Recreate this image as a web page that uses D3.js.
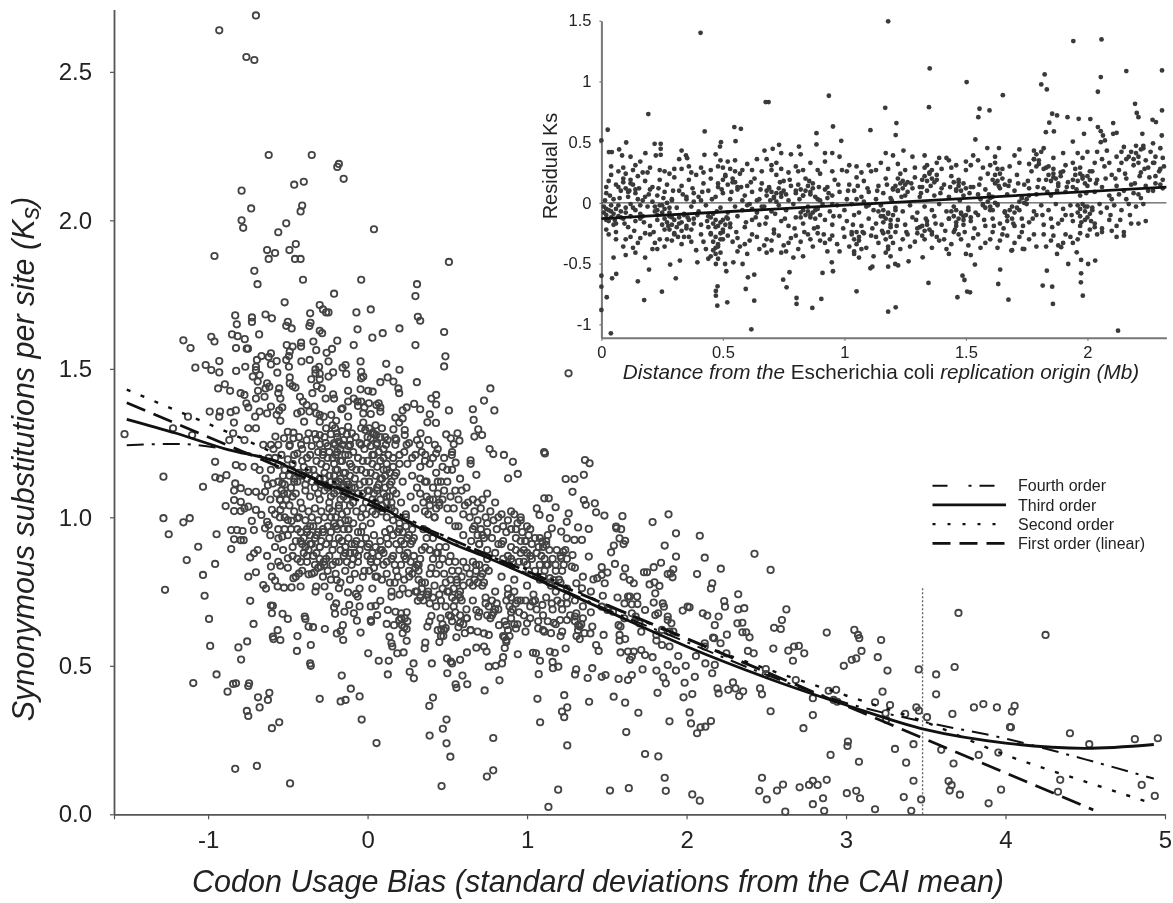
<!DOCTYPE html>
<html>
<head>
<meta charset="utf-8">
<script src="https://cdn.jsdelivr.net/npm/d3@7"></script>
<style>
  body { margin: 0; background: #fff; }
  svg { display: block; font-family: "Liberation Sans", Arial, sans-serif; filter: blur(0.35px); }
</style>
</head>
<body>
<div id="vis"></div>
<script>
// main scatter: upper outliers
var pointsHigh = [[-.7,2.69],[-.93,2.64],[-.76,2.55],[-.71,2.54],[-.62,2.22],[-.35,2.22],[-.18,2.19],[-.19,2.18],[-.15,2.14],[-.46,2.12],[-.4,2.13],[-.79,2.1],[-.73,2.04],[-.41,2.05],[-.42,2.03],[-.79,2],[-.78,1.975],[-.51,1.99],[-.56,1.96],[.04,1.97],[-.45,1.92],[-.49,1.9],[-.63,1.9],[-.58,1.89],[-.62,1.87],[-.96,1.88],[-.455,1.87],[-.42,1.87],[.51,1.86],[-.71,1.83],[-.69,1.785],[-.405,1.8],[-.04,1.8],[.31,1.785],[.3,1.745],[-.21,1.753],[-.52,1.724],[-.3,1.715],[-.28,1.7],[-.26,1.69],[-.245,1.69],[-.36,1.687],[-.07,1.69],[.02,1.7],[-.83,1.68],[-.82,1.65],[-.725,1.673],[-.725,1.658],[-.64,1.683],[-.6,1.67],[-.5,1.658],[-.51,1.645],[-.476,1.636],[-.358,1.655],[-.365,1.644],[-.063,1.633],[-.3,1.628],[-.285,1.62],[.315,1.675],[.33,1.662],[.2,1.636],[.095,1.62],[.03,1.605],[.48,1.624],[-.68,1.616],[-.85,1.616],[-.815,1.61],[-.77,1.6],[-.98,1.608],[-.96,1.592],[-1.155,1.596],[-1.11,1.57],[-.19,1.595],[-.34,1.592],[-.417,1.588],[-.417,1.575],[-.087,1.58],[-.507,1.58],[-.47,1.575],[-.825,1.57],[-.758,1.568],[-.75,1.568],[-.223,1.567],[-.322,1.563],[.3,1.58],[-.488,1.558],[-.257,1.554],[-.606,1.552],[-.665,1.543],[-.62,1.54],[-.493,1.543],[.488,1.542],[-.93,1.526],[-1.015,1.513],[-1.08,1.504],[-.98,1.496],[-.93,1.488],[-.824,1.493],[-.767,1.507],[-.694,1.53],[-.7,1.507],[-.7,1.496],[-.57,1.526],[-.606,1.515],[-.566,1.487],[-.51,1.53],[-.493,1.507],[-.415,1.525],[-.363,1.53],[-.245,1.525],[-.327,1.498],[-.304,1.507],[-.138,1.513],[-.157,1.504],[-.044,1.525],[.117,1.517],[.2,1.497],[.48,1.508],[1.26,1.485],[-.04,1.49],[-.134,1.483],[-.216,1.488],[-.327,1.485],[-.3,1.483],[-.027,1.474],[-.245,1.474],[-.72,1.474],[-.677,1.479],[-.488,1.471],[-.353,1.465],[-.3,1.465],[-.04,1.468],[.126,1.471],[.162,1.457],[.08,1.455],[.309,1.455],[-.689,1.457],[-.63,1.451],[-.488,1.451],[-.47,1.442],[-.452,1.437],[-.318,1.442],[-.287,1.434],[.193,1.434],[.77,1.434],[-.895,1.448],[-.937,1.434],[-.862,1.426],[-.64,1.434],[-.616,1.44],[-.554,1.434],[-.122,1.426],[-.044,1.431],[.004,1.426],[.032,1.423],[.198,1.418],[-.687,1.426],[-.796,1.418],[-.772,1.412],[-.56,1.418],[-.346,1.418],[-.216,1.414],[.43,1.412],[.4,1.4],[.43,1.38],[.73,1.393],[.795,1.36],[-.7,1.4],[-.646,1.406],[-.547,1.4],[-.424,1.406],[-.405,1.39],[-.263,1.4],[-.21,1.4],[-.122,1.39],[-.087,1.4],[-.063,1.39],[-.04,1.39],[.008,1.384],[.055,1.378],[.292,1.382],[.245,1.37],[.33,1.364],[-.76,1.384],[-.748,1.37],[-.606,1.373],[-.535,1.37],[-.382,1.378],[-.334,1.373],[-.157,1.367],[-.165,1.364],[-.06,1.375],[-.02,1.37],[.07,1.384],[.08,1.37],[.22,1.36],[.51,1.36],[.66,1.364],[.39,1.347],[.665,1.328],[-.99,1.356],[-.925,1.356],[-.93,1.339],[-.859,1.354],[-.826,1.36],[-.705,1.339],[-.677,1.356],[-.63,1.35],[-.57,1.345],[-.554,1.36],[-.441,1.35],[-.417,1.356],[-.365,1.356],[-.322,1.35],[-.3,1.345],[-.228,1.345],[-.275,1.339],[-.122,1.339],[-.027,1.35],[.02,1.348],[.08,1.356],[.174,1.336],[.22,1.333],[-1.126,1.339],[-1.22,1.3],[-1.1,1.277],[-1.524,1.28],[-.838,1.319],[-.547,1.325],[-.398,1.322],[-.3,1.322],[-.197,1.325],[-.122,1.305],[-.027,1.319],[.198,1.319],[.375,1.32],[.429,1.318],[-.748,1.3],[-.7,1.3],[-.204,1.3],[.162,1.296],[.233,1.294],[.694,1.296],[-.04,1.3],[-.015,1.294],[-.843,1.283],[.493,1.279],[.564,1.283],[.332,1.283],[.718,1.277],[.67,1.272],[-.5,1.288],[-.465,1.285],[-.37,1.283],[-.3,1.277],[-.193,1.283],[-.098,1.283],[.032,1.285],[.055,1.277],[.233,1.277],[.174,1.266],[.522,1.266],[.576,1.258],[.54,1.246],[-.867,1.26],[-.772,1.26],[-.578,1.272],[-.524,1.266],[-.465,1.266],[-.382,1.26],[-.322,1.263],[-.18,1.255],[-.11,1.26],[-.075,1.27],[.02,1.266],[.126,1.26],[.327,1.244],[.422,1.244],[.765,1.23],[1.107,1.22],[-.654,1.244],[-.606,1.244],[-.56,1.244],[-.488,1.244],[-.417,1.244],[-.3,1.246],[-.263,1.25],[-.204,1.244],[-.157,1.244],[-.11,1.244],[-.04,1.244],[-.004,1.25],[.055,1.244],[.115,1.244],[.174,1.244],[.245,1.244]];

// left and lower scatter, sparse part
var pointsLow = [[-1.28,1.137],[-.956,1.187],[-.955,1.135],[-.925,1.13],[-.885,1.142],[-1.032,1.103],[-1.28,.997],[-1.155,.983],[-1.115,.997],[-1.247,.943],[-.947,.943],[-1.062,.901],[-1.134,.856],[-.956,.843],[-1.032,.806],[-1.27,.756],[-1.022,.736],[-.736,.719],[-.994,.658],[-.715,.641],[-.987,.567],[-.81,.562],[-.755,.582],[-.793,.521],[-.947,.471],[-1.093,.442],[-.878,.413],[-.843,.439],[-.825,.441],[-.743,.441],[-.748,.432],[-.616,.409],[-.687,.394],[-.625,.385],[-.677,.36],[-.757,.348],[-.748,.331],[-.554,.31],[-.6,.29],[-.3,.389],[-.169,.38],[-.138,.385],[-.105,.423],[-.05,.397],[-.162,.467],[-.037,.319],[.056,.24],[-.83,.153],[-.694,.163],[-.486,.104],[-.443,.55],[-.356,.57],[-.36,.508],[-.356,.5],[-.44,.6],[-.594,.598],[-.59,.59],[-.564,.62],[-.547,.587],[-.37,.632],[-.342,.63],[-.268,.624],[-.193,.609],[-.169,.617],[-.155,.637],[-.153,.587],[-.044,.612],[.004,.542],[.07,.517],[.133,.517],[.127,.471],[.288,.508],[.264,.48],[.29,.458],[.403,.508],[.5,.475],[.595,.467],[.552,.438],[.557,.426],[.625,.438],[.734,.417],[.827,.451],[.498,.525],[.522,.514],[.53,.508],[.58,.52],[.623,.545],[.682,.561],[.746,.548],[.76,.497],[.803,.5],[.85,.529],[.843,.508],[.942,.539],[1.037,.544],[1.056,.542],[1.143,.548],[1.174,.544],[1.081,.517],[1.073,.472],[1.16,.513],[1.162,.492],[1.196,.497],[1.308,.488],[1.301,.471],[1.38,.459],[1.242,.558],[1.065,.389],[1.233,.401],[1.252,.36],[1.219,.346],[1.233,.327],[1.389,.379],[1.082,.31],[1.252,.232],[.387,.365],[.41,.393],[.495,.319],[.472,.288],[.389,.265],[.495,.239],[.788,.257],[.519,.194],[.464,.095],[.748,.127],[.788,.148],[1.195,.083],[1.134,.025],[.138,.598],[.15,.576],[.155,.565],[.186,.542],[.226,.545],[.245,.584],[.358,.559],[.362,.578],[.646,.62],[.69,.615],[.73,.609],[.76,.604],[.73,.565],[-.748,.8],[-.7,.815],[-.654,.772],[-.637,.76],[-.606,.834],[-.547,.837],[-.6,.8],[-.58,.787],[-.564,.767],[-.524,.763],[-.477,.764],[-.465,.795],[-.43,.811],[-.42,.767],[-.37,.808],[-.334,.814],[-.322,.767],[-.327,.75],[-.27,.767],[-.294,.834],[-.275,.85],[-.24,.733],[-.193,.789],[-.18,.761],[-.123,.747],[-.062,.733],[-.073,.742],[-.197,.71],[-.204,.675],[-.21,.697],[-.145,.682],[-.115,.705],[-.086,.677],[-.067,.652],[-.05,.7],[.02,.7],[.05,.702],[.08,.719],[.06,.671],[.02,.654],[.022,.648],[.127,.688],[.15,.733],[.175,.682],[.21,.677],[.245,.68],[.198,.654],[.233,.66],[.12,.641],[.166,.637],[.216,.637],[.245,.624],[.257,.744],[.315,.719],[-.606,.703],[-.594,.702],[-.6,.677],[-.533,.675],[-.5,.658],[-.394,.666],[-.39,.658],[.375,.632],[.387,.649],[.4,.668],[.458,.66],[.522,.666],[.462,.623],[.49,.627],[.475,.6],[.557,.596],[.58,.645],[.623,.66],[.682,.688],[.694,.666],[.646,.62],[.824,.637],[.87,.637],[.858,.596],[.87,.587],[.93,.626],[.99,.615],[1,.643],[1.07,.626],[1.108,.615],[1.167,.645],[1.207,.654],[1.25,.654],[1.22,.615],[1.3,.666],[1.32,.637],[1.33,.632]];

// lower right scatter
var pointsRight = [[1.425,1.047],[1.433,1.017],[1.485,1.006],[1.598,1.004],[1.887,1.01],[1.787,.984],[1.558,.969],[1.56,.963],[1.59,.96],[1.58,.929],[1.615,.921],[1.605,.91],[1.544,.905],[1.527,.882],[1.934,.946],[2.083,.938],[1.863,.905],[1.934,.868],[2.114,.864],[2.426,.877],[2.527,.823],[2.215,.827],[2.066,.809],[1.84,.847],[1.794,.832],[1.752,.815],[1.733,.815],[1.882,.809],[1.9,.811],[1.917,.825],[1.912,.798],[1.615,.828],[1.551,.843],[1.468,.832],[1.504,.814],[1.468,.806],[1.44,.795],[1.487,.778],[1.416,.791],[1.605,.8],[1.645,.789],[1.669,.778],[1.768,.774],[1.799,.781],[1.83,.769],[1.804,.744],[2.161,.778],[2.153,.76],[2.324,.741],[2.236,.718],[2.241,.699],[2.324,.69],[2.362,.694],[2.626,.69],[1.475,.736],[1.567,.73],[1.633,.733],[1.645,.733],[1.69,.733],[1.611,.71],[1.657,.707],[1.692,.708],[1.74,.688],[1.794,.713],[1.851,.71],[1.858,.699],[1.804,.671],[1.822,.677],[1.882,.666],[1.905,.643],[1.882,.654],[1.976,.686],[2.007,.699],[2.019,.697],[2.102,.677],[2.13,.669],[2.201,.666],[2.177,.637],[2.319,.643],[2.35,.645],[2.35,.613],[2.374,.613],[2.395,.596],[2.253,.605],[2.166,.595],[2.173,.593],[2.213,.576],[2.114,.576],[2.114,.565],[2.25,.542],[2.385,.55],[2.421,.542],[2.544,.558],[2.549,.628],[2.591,.624],[2.598,.654],[2.638,.551],[2.674,.565],[2.704,.567],[2.738,.542],[2.667,.517],[2.879,.612],[3.052,.621],[3.075,.604],[3.083,.593],[3.22,.587],[3.097,.55],[3.064,.525],[3.036,.52],[2.986,.5],[3.199,.529],[3.26,.484],[3.456,.488],[3.565,.471],[3.681,.496],[3.705,.678],[4.251,.604],[3.565,.404],[3.229,.413],[3.182,.377],[3.276,.368],[2.891,.416],[2.938,.419],[2.922,.385],[2.945,.379],[3.441,.36],[3.457,.349],[3.371,.338],[3.508,.327],[3.667,.338],[3.802,.36],[3.861,.371],[3.946,.36],[4.057,.365],[4.04,.346],[4.028,.294],[4.034,.293],[4.404,.273],[4.525,.236],[4.811,.253],[4.955,.256],[3.248,.34],[3.252,.318],[3.307,.22],[3.423,.236],[3.377,.174],[3.597,.217],[3.674,.171],[3.832,.2],[3.955,.208],[3.081,.177],[3.012,.245],[3.009,.23],[2.903,.2],[2.792,.334],[2.733,.29],[2.527,.347],[2.792,.391],[2.685,.452],[2.497,.489],[2.497,.472],[2.461,.424],[2.473,.404],[2.291,.444],[2.262,.419],[2.307,.424],[2.355,.414],[2.33,.398],[2.194,.424],[2.201,.407],[2.161,.475],[2.177,.503],[2.118,.508],[2.059,.533],[1.948,.533],[1.995,.5],[1.934,.484],[1.882,.503],[1.811,.484],[1.854,.461],[1.87,.441],[1.988,.443],[2.052,.463],[2.036,.405],[1.981,.394],[1.818,.409],[1.724,.488],[1.657,.469],[1.633,.452],[1.574,.456],[1.492,.469],[1.468,.463],[1.409,.492],[1.543,.396],[1.615,.376],[1.698,.342],[1.893,.313],[2.019,.343],[2.028,.306],[2.153,.314],[2.118,.295],[2.088,.293],[2.066,.273],[1.622,.277],[1.74,.203],[1.823,.195],[1.863,.123],[1.87,.079],[1.638,.088],[1.52,.08],[2.036,.067],[2.083,.046],[2.473,.123],[2.456,.079],[2.503,.05],[2.567,.08],[2.605,.1],[2.619,.009],[2.709,.091],[2.768,.099],[2.792,.113],[2.822,.099],[2.879,.116],[2.856,.054],[2.792,.034],[2.863,.012],[3.005,.071],[3.064,.079],[3.088,.054],[3.182,.017],[3.362,.058],[3.423,.113],[3.409,.012],[3.471,.05],[3.643,.112],[3.662,.098],[3.65,.08],[3.714,.066],[3.894,.037],[3.972,.083],[4.329,.076],[4.343,.116],[4.854,.099],[4.936,.062],[1.468,.699],[1.504,.688],[1.539,.682],[1.574,.637],[1.586,.632],[1.58,.604],[1.58,.585],[1.615,.59],[1.716,.553],[1.74,.536],[1.787,.529],[1.633,.548],[1.669,.548],[1.645,.52],[1.657,.531],[1.893,.565],[1.846,.57],[1.811,.585],[1.811,.604],[1.433,.57],[1.449,.55],[1.48,.604],[1.409,.632],[1.397,.609],[1.681,.666],[1.704,.643],[1.716,.615],[1.61,.66],[1.586,.545],[1.657,.677],[1.846,.621],[1.893,.615],[1.917,.615],[1.108,1.064],[1.136,1.064],[1.242,1.129],[1.297,1.129],[1.356,1.143],[1.285,1.086],[1.356,1.058],[1.368,1.042],[1.112,1.215],[1.363,1.193],[1.392,1.182],[1.179,1.034],[1.261,1.013],[1.249,.985],[1.32,.966],[1.387,.961],[1.061,1.03],[1.078,1.008],[1.143,.997],[1.155,.963],[1.214,.952],[1.249,.929],[1.297,.924],[1.344,.924],[1.096,.918],[1.12,.907],[1.186,.89],[1.226,.884],[1.285,.873],[1.214,.862],[1.28,.834],[1.387,.868],[1.179,.84],[1.12,.84],[1.073,.9],[1.309,.778],[1.344,.761],[1.143,.795],[1.167,.789],[1.249,.733],[1.214,.71],[1.155,.71],[1.096,.705],[1.037,.716],[1.309,.677],[.855,1.21],[.911,1.187],[.942,1.146],[.881,1.131],[.788,1.213],[.682,1.143],[.646,1.192],[.646,1.18],[.528,1.21],[.552,1.184],[.362,1.21],[.43,1.215]];

// dense core of the main cloud, estimated along the fit
var pointsCore = [[-.826,1.176],[-.784,1.17],[-.708,1.17],[-.677,1.159],[-.83,1.114],[-.795,1.098],[-.748,1.086],[-.7,1.086],[-.837,1.09],[-.89,1.038],[-.837,1.058],[-.795,1.052],[-.837,1.021],[-.772,1.03],[-.795,1.021],[-.748,1.036],[-.7,1.025],[-.666,1.008],[-.6,1.025],[-.547,1.025],[-.726,.988],[-.63,.985],[-.643,.963],[-.62,.974],[-.713,.957],[-.855,.957],[-.819,.957],[-.784,.954],[-.837,.926],[-.795,.923],[-.777,.923],[-.855,.893],[-.736,.865],[-.712,.879],[-.689,.89],[-.559,.929],[-.535,.935],[-.5,.862],[-.5,.991],[-.477,.988],[-.44,.997],[-.547,1.058],[-.524,1.08],[-.625,1.108],[-.594,1.114],[-.643,1.086],[-.666,1.07],[-.535,1.114],[-.56,1.176],[-.606,1.16],[-.58,1.2],[-.54,1.21],[-.5,1.195],[-.47,1.18],[-.44,1.215],[-.41,1.19],[-.52,1.16],[-.49,1.14],[-.46,1.12],[-.43,1.15],[-.4,1.17],[-.38,1.13],[-.36,1.21],[-.34,1.16],[-.32,1.19],[-.3,1.13],[-.28,1.21],[-.26,1.17],[-.24,1.14],[-.22,1.2],[-.2,1.16],[-.18,1.12],[-.16,1.19],[-.14,1.15],[-.12,1.21],[-.1,1.17],[-.08,1.13],[-.06,1.2],[-.04,1.16],[-.02,1.12],[0,1.19],[.02,1.15],[.04,1.21],[.06,1.17],[.08,1.13],[.1,1.2],[.12,1.16],[.14,1.11],[.16,1.2],[.18,1.15],[.2,1.21],[.22,1.12],[.25,1.18],[.28,1.14],[.3,1.21],[.33,1.17],[.36,1.12],[.39,1.18],[.43,1.15],[.47,1.17],[.5,1.12],[.53,1.16],[.58,1.13],[.62,1.1],[.66,1.06],[.71,1.03],[.75,1.08],[.8,1.05],[.84,1.01],[.9,1.02],[.96,.99],[1,.97],[-.45,1.08],[-.42,1.05],[-.39,1.09],[-.36,1.07],[-.33,1.1],[-.3,1.06],[-.27,1.09],[-.24,1.05],[-.21,1.08],[-.18,1.04],[-.15,1.07],[-.12,1.1],[-.09,1.05],[-.06,1.08],[-.03,1.03],[0,1.09],[.03,1.06],[.06,1.1],[.09,1.04],[.12,1.07],[.15,1.03],[.18,1.08],[.21,1.05],[.24,1.01],[.27,1.07],[.3,1.03],[.33,1.08],[.36,1.02],[.39,1.06],[.42,1],[.45,1.04],[.48,1.09],[.51,.99],[.54,1.03],[.57,.97],[.6,1.01],[.63,1.05],[.66,.96],[.69,.99],[.72,.94],[.75,.98],[.78,.93],[.81,.96],[.84,.91],[.87,.95],[.9,.9],[.93,.93],[.96,.88],[.99,.92],[1.02,.87],[-.5,.94],[-.47,.9],[-.44,.96],[-.42,.92],[-.4,.88],[-.38,.95],[-.36,.91],[-.34,.87],[-.32,.94],[-.3,.9],[-.28,.96],[-.26,.86],[-.24,.93],[-.22,.89],[-.2,.97],[-.18,.85],[-.16,.92],[-.14,.88],[-.12,.96],[-.1,.84],[-.08,.91],[-.06,.87],[-.04,.95],[-.02,.82],[0,.9],[.02,.86],[.04,.94],[.06,.8],[.08,.89],[.1,.84],[.12,.93],[.14,.78],[.16,.87],[.18,.82],[.2,.96],[.22,.76],[.24,.86],[.26,.8],[.28,.92],[.3,.75],[.32,.84],[.34,.78],[.36,.9],[.38,.74],[.4,.83],[.42,.77],[.44,.88],[.46,.72],[.48,.81],[.5,.75],[.52,.87],[.54,.7],[.56,.79],[.58,.73],[.6,.85],[.62,.69],[.64,.78],[.66,.72],[.68,.84],[.7,.68],[.72,.77],[.74,.71],[.76,.82],[.78,.67],[.8,.75],[.82,.69],[.84,.8],[.86,.65],[.88,.74],[.9,.68],[.92,.79],[.94,.64],[.96,.72],[.98,.67],[1,.77],[1.02,.66],[1.04,.74],[1.06,.69],[1.08,.79],[1.1,.67],[1.12,.73],[1.14,.78],[1.16,.69],[1.18,.75],[.55,.97],[.6,.94],[.65,.92],[.7,.91],[.75,.89],[.8,.88],[.85,.86],[.9,.86],[.95,.85],[1,.84],[1.05,.82],[1.1,.8],[1.15,.77],[1.2,.79],[1.25,.76],[1.3,.72],[1.35,.7],[1.4,.68],[1.4,.75],[1.35,.8],[1.3,.83]];

// clumps of overlapping circles seen in the enlarged crops
var clumpsMain = [[-.42,.95],[-.4,.93],[-.38,.96],[-.36,.94],[-.35,.91],[-.33,.93],[-.31,.95],[-.39,.9],[-.37,.89],[-.34,.97],[-.3,.9],[-.41,.91],[-.32,.88],[-.36,.97],[-.29,.92],[-.28,.95],
[-.16,.92],[-.14,.9],[-.12,.93],[-.1,.91],[-.08,.88],[-.15,.87],[-.13,.85],[-.11,.88],[-.09,.86],[-.07,.92],[-.05,.89],[-.17,.89],[-.18,.93],[-.06,.85],[-.04,.91],[-.12,.96],
[-.27,1.27],[-.25,1.24],[-.23,1.28],[-.21,1.25],[-.19,1.27],[-.17,1.23],[-.15,1.26],[-.13,1.28],[-.24,1.22],[-.2,1.21],[-.16,1.29],[-.12,1.24],[-.28,1.22],[-.26,1.3],[-.22,1.31],
[0,1.27],[.02,1.24],[.04,1.28],[.06,1.25],[.08,1.27],[.1,1.23],[.03,1.21],[.07,1.22],[-.02,1.23],[.01,1.3],[.05,1.31],[.09,1.3],[.11,1.27],
[.06,1.09],[.08,1.06],[.1,1.08],[.12,1.05],[.14,1.07],[.07,1.03],[.09,1.02],[.11,1.1],[.13,1.03],[.15,1.05],[.16,1.09],[.05,1.05],[.04,1.08],[.17,1.02],[.12,1],
[-.22,1.02],[-.2,1],[-.18,1.03],[-.16,1.01],[-.14,.99],[-.21,.98],[-.19,.96],[-.17,.98],[-.15,.96],[-.13,1.02],[-.12,.99],[-.23,1],[-.24,1.03],[-.11,1.04],
[-.56,1.12],[-.54,1.09],[-.52,1.11],[-.5,1.08],[-.48,1.1],[-.55,1.06],[-.53,1.04],[-.51,1.06],[-.49,1.04],[-.47,1.07],[-.57,1.08],[-.46,1.13],[-.53,1.14],
[-.19,1.16],[-.17,1.13],[-.15,1.15],[-.13,1.12],[-.11,1.14],[-.16,1.1],[-.14,1.09],[-.12,1.11],[-.1,1.1],[-.2,1.12],
[.08,1.19],[.1,1.16],[.12,1.18],[.14,1.15],[.16,1.17],[.09,1.13],[.11,1.14],[.13,1.21],[.15,1.12],[.17,1.14],
[.01,.91],[.03,.88],[.05,.9],[.07,.87],[.02,.85],[.04,.83],[.06,.85],[.08,.92],[.09,.89],[0,.87],[-.01,.93],[.05,.8],
[.2,.98],[.22,.95],[.24,.97],[.26,.94],[.28,.96],[.21,.92],[.23,.91],[.25,.93],[.27,.91],[.19,.95],[.29,.93],[.24,1],
[.25,.88],[.27,.85],[.29,.87],[.31,.84],[.33,.86],[.26,.82],[.28,.81],[.3,.83],[.32,.82],[.34,.89],
[.37,1.07],[.39,1.04],[.41,1.06],[.43,1.03],[.45,1.05],[.38,1.01],[.42,1],[.44,1.08],
[.66,.85],[.68,.82],[.7,.84],[.72,.81],[.74,.83],[.67,.79],[.69,.78],[.71,.8],[.73,.78],[.75,.86],
[.52,.79],[.54,.76],[.56,.78],[.58,.75],[.6,.77],[.53,.73],[.55,.72],[.57,.74],[.59,.72],[.51,.75],
[.32,.79],[.34,.76],[.36,.78],[.38,.75],[.33,.73],[.35,.72],[.37,.74],[.39,.71],[.31,.75],
[.88,.76],[.9,.73],[.92,.75],[.94,.72],[.89,.7],[.91,.69],[.93,.71],[.95,.68],[.87,.72],[.9,.66],[.92,.64],
[.74,.73],[.76,.7],[.78,.72],[.8,.69],[.75,.67],[.77,.66],[.79,.68],[.81,.71],
[.97,.95],[.99,.92],[1.01,.94],[1.03,.91],[1.05,.93],[.98,.89],[1,.88],[1.02,.96],
[1.08,.93],[1.1,.9],[1.12,.92],[1.14,.89],[1.09,.87],[1.11,.86],[1.13,.94],
[.92,1.01],[.94,.98],[.96,1],[.93,.96],
[.67,.97],[.69,.94],[.71,.96],[.73,.93],[.75,.95],[.7,.91],
[1.3,.65],[1.32,.62],[1.34,.64],[1.36,.61],[1.31,.6],[1.33,.59],[1.35,.66],
[.58,.67],[.6,.64],[.62,.66],[.57,.63],[.61,.61],[.44,.62],[.46,.6],[.48,.62],[.45,.58],[.47,.64],
[.21,.66],[.23,.63],[.25,.65],[.22,.61],[.85,.6],[.87,.58],[.89,.6],[.86,.56],[.88,.62],
[1.21,.87],[1.23,.84],[1.25,.86],[1.22,.82],[1.24,.89]];

// more of the mass left of and around x = 0
var clumpsCore = [[-.62,1.2],[-.59,1.23],[-.64,1.13],[-.61,1.06],[-.58,1.01],[-.56,.96],[-.61,.94],[-.58,.9],[-.63,.87],[-.56,.85],[-.53,.89],[-.5,.83],[-.47,.87],[-.45,.8],[-.44,.86],[-.41,.82],[-.38,.85],[-.35,.81],[-.31,.83],[-.28,.8],[-.25,.82],[-.23,.79],[-.2,.81],[-.17,.78],[-.14,.82],[-.11,.79],[-.08,.81],[-.05,.76],[-.03,.8],[.01,.82],[.03,.76],[.09,.79],[.12,.81],[.15,.75],[.17,.78],[.2,.74],[.23,.79],
[-.49,1.24],[-.46,1.21],[-.43,1.27],[-.41,1.23],[-.38,1.2],[-.35,1.24],[-.33,1.28],[-.31,1.22],[-.29,1.18],[-.27,1.15],[-.25,1.2],[-.23,1.12],[-.21,1.18],[-.19,1.22],[-.17,1.19],[-.14,1.21],[-.11,1.18],[-.09,1.22],[-.07,1.16],[-.05,1.25],[-.03,1.19],[-.01,1.15],[.01,1.12],[.03,1.18],[.05,1.14],[.07,1.11],[.18,1.26],[.2,1.18],[.23,1.22],[.26,1.25],[.28,1.2],[.31,1.26],[.34,1.22],[.36,1.19],[.38,1.26],[.41,1.2],[.44,1.23],[.46,1.12],[.48,1.2],[.5,1.16],[.53,1.22],
[-.44,1.12],[-.41,1.14],[-.39,1.11],[-.37,1.16],[-.35,1.12],[-.33,1.14],[-.31,1.08],[-.29,1.11],[-.27,1.13],[-.25,1.1],[-.23,1.07],[-.21,1.14],[-.19,1.09],[-.17,1.06],[-.15,1.11],[-.13,1.06],[-.1,1.08],[-.08,1.1],[-.05,1.11],[-.03,1.08],[-.01,1.05],[.01,1.09],[.03,1.02],[.05,1.01],[.02,.98],[-.01,1.01],[-.04,1],[-.07,1.02],[-.09,.98],[-.06,.95],[-.03,.97],
[-.46,1.02],[-.43,1],[-.41,1.03],[-.39,.99],[-.37,1.02],[-.35,1],[-.33,1.03],[-.31,.99],[-.29,1.02],[-.27,1],[-.25,.97],[-.23,.95],[-.21,.91],[-.26,.91],[-.24,.87],[-.2,.85],[-.22,.84],[-.27,.84],[-.3,.86],[-.33,.84],[-.38,.87],[-.42,.85],[-.45,.92],[-.48,.96],[-.52,1],[-.55,1],[-.52,.96],
[.16,.99],[.18,.91],[.2,.89],[.16,.94],[.14,.96],[.11,.95],[.13,.91],[.1,.88],[.12,.85],[.15,.86],[.17,.84],[.19,.8],[.21,.84],[.23,.87],[.35,.96],[.37,.93],[.39,.89],[.41,.93],[.43,.88],[.45,.9],[.47,.86],[.49,.9],[.51,.85],[.53,.82],[.55,.85],[.57,.82],[.59,.8],[.62,.83],[.64,.81],[.66,.77],[.41,.86],[.39,.81],[.43,.81],[.45,.84],[.47,.76],[.49,.78],[.41,.73],[.43,.7],[.45,.74],[.49,.7],[.51,.67],[.53,.65],[.55,.68],
[.31,1.1],[.33,1.13],[.35,1.05],[.37,1.12],[.41,1.1],[.44,1.12],[.47,1.06],[.5,1.03],[.52,1.07],[.55,1.09],[.57,1.06],[.59,1.09],[.61,1.04],[.64,1],[.67,1.02],[.69,1.05],[.72,1.06],[.74,1],[.77,1.02],[.79,.99],[.82,1],[.85,.97],[.88,.99],[.9,.96],[.82,.91],[.85,.92],[.88,.87],[.91,.85],[.93,.89],[.96,.92],[.98,.85],[1.01,.82],[1.03,.86],[1.06,.88],[1.08,.84],[1.11,.82],[1.13,.84],[1.16,.86],[1.18,.82],[1.21,.78],[1.19,.72],[1.22,.69],[1.25,.71],[1.27,.67],[.99,.72],[1.02,.7],[1.05,.72],[1.07,.65],[1.1,.62],[1.13,.65],[1.15,.61],[1.18,.64],[1.21,.6]];

// inset scatter, values, upper half
var insetHigh = [[.408,1.4],[1.18,1.495],[1.942,1.332],[2.058,1.346],[1.351,1.107],[2.307,1.091],[2.16,1.085],[2.055,1.036],[1.824,1.058],[1.503,.995],[1.81,.975],[1.833,.934],[2.043,.915],[1.652,.887],[.936,.882],[.676,.83],[.688,.83],[1.168,.783],[1.348,.788],[1.556,.775],[1.597,.761],[.193,.731],[2.196,.816],[2.307,.761],[2.203,.74],[2.21,.706],[2.268,.684],[1.964,.692],[1.855,.734],[1.875,.72],[1.918,.706],[2.012,.69],[1.551,.706],[1.843,.66],[2.106,.657],[1.214,.657],[.026,.602],[.547,.624],[.574,.61],[.953,.629],[.425,.588],[1.107,.599],[.885,.574],[1.829,.582],[1.862,.588],[2.043,.624],[2.055,.59],[1.986,.569],[2.064,.555],[2.12,.577],[2.106,.569],[2.306,.555],[2.226,.569],[2.282,.665],[1.211,.558],[1.539,.522],[1.94,.505],[2.072,.514],[2.055,.5],[0,.514],[.102,.497],[.492,.5],[.552,.508],[.987,.511],[.885,.481],[.731,.478],[.705,.445],[.671,.431],[.488,.464],[.813,.464],[.219,.486],[.244,.486],[.244,.445],[.244,.396],[.181,.409],[.224,.39],[.424,.396],[.33,.431],[.348,.39],[.353,.368],[.031,.418],[.043,.418],[.073,.44],[.085,.39],[1.243,.431],[1.588,.451],[1.636,.451],[2.27,.49],[2.2,.47],[2.23,.45],[2.15,.46],[2.08,.43],[2.0,.42],[1.82,.45],[1.78,.43],[1.9,.41],[1.72,.44],[1.53,.39],[1.42,.37],[1.39,.37],[1.33,.39],[1.28,.38],[1.17,.41],[1.2,.39],[1.02,.31],[.95,.41],[.98,.38],[.92,.41],[.82,.4],[.78,.4],[.74,.41],[.68,.36],[.64,.36],[.55,.35],[.52,.34],[.47,.4],[.49,.35],[.32,.36],[.12,.38],[.16,.34],[2.3,.45],[2.31,.37],[2.27,.33],[2.16,.36],[2.12,.38],[1.98,.37],[1.94,.33],[1.86,.37],[1.78,.36],[1.7,.39],[1.62,.38],[1.55,.35],[1.5,.34],[1.46,.31],[1.43,.35],[1.38,.33],[1.34,.31],[1.22,.32],[1.15,.33],[1.1,.31],[1.05,.3],[.92,.34],[.86,.33],[.8,.3],[.72,.33],[.7,.31],[.6,.32],[.58,.27],[.55,.26],[.5,.29],[.48,.3],[.42,.25],[.36,.3],[.3,.28],[.26,.26],[.2,.29],[.17,.25],[.13,.27],[.1,.24],[.07,.26],[.04,.23],[.02,.13]];

// inset scatter, band around zero
var insetBand = [[.03,.18],[.06,.15],[.09,.2],[.12,.16],[.15,.22],[.18,.18],[.21,.13],[.24,.19],[.27,.15],[.3,.21],[.33,.14],[.36,.19],[.39,.23],[.42,.16],[.45,.2],[.48,.13],[.51,.22],[.54,.17],[.57,.24],[.6,.14],[.63,.2],[.66,.16],[.69,.12],[.72,.23],[.75,.18],[.78,.14],[.81,.26],[.84,.2],[.87,.16],[.9,.24],[.93,.13],[.96,.19],[.99,.27],[1.02,.15],[1.05,.21],[1.08,.18],[1.11,.26],[1.14,.14],[1.17,.2],[1.2,.12],[1.23,.24],[1.26,.17],[1.29,.21],[1.32,.13],[1.35,.25],[1.38,.19],[1.41,.15],[1.44,.22],[1.47,.17],[1.5,.27],[1.53,.13],[1.56,.2],[1.59,.24],[1.62,.16],[1.65,.28],[1.68,.18],[1.71,.23],[1.74,.15],[1.77,.26],[1.8,.19],[1.83,.29],[1.86,.21],[1.89,.25],[1.92,.17],[1.95,.28],[1.98,.22],[2.01,.26],[2.04,.19],[2.07,.3],[2.1,.23],[2.13,.27],[2.16,.2],[2.19,.31],[2.22,.25],[2.25,.29],[2.28,.22],[2.31,.19],[.02,.08],[.05,.03],[.08,.1],[.11,.05],[.14,.08],[.17,.02],[.2,.11],[.23,.06],[.26,.09],[.29,.03],[.32,.1],[.35,.05],[.38,.08],[.41,.02],[.44,.1],[.47,.05],[.5,.08],[.53,.03],[.56,.11],[.59,.06],[.62,.09],[.65,.03],[.68,.1],[.71,.05],[.74,.08],[.77,.02],[.8,.1],[.83,.06],[.86,.09],[.89,.03],[.92,.11],[.95,.06],[.98,.09],[1.01,.03],[1.04,.1],[1.07,.05],[1.1,.09],[1.13,.03],[1.16,.08],[1.19,.04],[1.22,.1],[1.25,.06],[1.28,.12],[1.31,.05],[1.34,.1],[1.37,.06],[1.4,.12],[1.43,.05],[1.46,.1],[1.49,.06],[1.52,.13],[1.55,.07],[1.58,.11],[1.61,.05],[1.64,.12],[1.67,.07],[1.7,.1],[1.73,.04],[1.76,.12],[1.79,.07],[1.82,.12],[1.85,.06],[1.88,.14],[1.91,.09],[1.94,.13],[1.97,.06],[2,.14],[2.03,.09],[2.06,.13],[2.09,.06],[2.12,.14],[2.15,.1],[2.18,.15],[2.21,.07],[2.24,.14],[2.27,.1],[2.3,.15],[.01,-.03],[.04,-.07],[.07,-.02],[.1,-.08],[.13,-.04],[.16,-.09],[.19,-.03],[.22,-.07],[.25,-.02],[.28,-.08],[.31,-.04],[.34,-.09],[.37,-.03],[.4,-.07],[.43,-.02],[.46,-.09],[.49,-.04],[.52,-.08],[.55,-.03],[.58,-.06],[.61,-.01],[.64,-.08],[.67,-.03],[.7,-.07],[.73,-.02],[.76,-.06],[.79,-.01],[.82,-.08],[.85,-.03],[.88,-.06],[.91,-.01],[.94,-.07],[.97,-.02],[1,-.06],[1.03,-.01],[1.06,-.08],[1.09,-.03],[1.12,-.06],[1.15,-.02],[1.18,-.09],[1.21,-.04],[1.24,-.07],[1.27,-.02],[1.3,-.08],[1.33,-.03],[1.36,-.06],[1.39,-.01],[1.42,-.07],[1.45,-.03],[1.48,-.09],[1.51,-.04],[1.54,-.08],[1.57,-.02],[1.6,-.06],[1.63,-.01],[1.66,-.08],[1.69,-.03],[1.72,-.06],[1.75,-.01],[1.78,-.07],[1.81,-.02],[1.84,-.06],[1.87,-.01],[1.9,-.05],[1.93,-.02],[1.96,-.08],[1.99,-.03],[2.02,-.06],[2.05,-.01],[2.08,-.04],[2.11,-.02],[2.14,-.06],[2.17,-.01],[2.2,-.03],[2.23,-.01],[.02,-.14],[.05,-.18],[.08,-.12],[.11,-.2],[.14,-.15],[.17,-.11],[.2,-.19],[.23,-.14],[.26,-.22],[.29,-.12],[.32,-.17],[.35,-.21],[.38,-.13],[.41,-.18],[.44,-.11],[.47,-.2],[.5,-.14],[.53,-.17],[.56,-.11],[.59,-.2],[.62,-.14],[.65,-.18],[.68,-.12],[.71,-.22],[.74,-.15],[.77,-.19],[.8,-.12],[.83,-.17],[.86,-.1],[.89,-.2],[.92,-.14],[.95,-.18],[.98,-.11],[1.01,-.15],[1.04,-.1],[1.07,-.19],[1.1,-.13],[1.13,-.17],[1.16,-.11],[1.19,-.2],[1.22,-.14],[1.25,-.18],[1.28,-.12],[1.31,-.2],[1.34,-.15],[1.37,-.11],[1.4,-.18],[1.43,-.13],[1.46,-.19],[1.49,-.11],[1.52,-.15],[1.55,-.1],[1.58,-.19],[1.61,-.13],[1.64,-.17],[1.67,-.11],[1.7,-.19],[1.73,-.13],[1.76,-.16],[1.79,-.1],[1.82,-.18],[1.85,-.13],[1.88,-.17],[1.91,-.1],[1.94,-.15],[1.97,-.19],[2,-.12],[2.03,-.17],[2.06,-.21],[2.09,-.14],[2.12,-.19],[2.15,-.24],[2.18,-.17],[2.21,-.17],[2.24,-.15],[.03,-.26],[.06,-.3],[.09,-.36],[.12,-.28],[.15,-.33],[.18,-.25],[.21,-.38],[.24,-.3],[.27,-.3],[.3,-.26],[.33,-.34],[.36,-.28],[.39,-.39],[.42,-.32],[.45,-.26],[.48,-.36],[.47,-.42],[.49,-.3],[.5,-.24],[.46,-.39],[.44,-.46],[.56,-.29],[.59,-.34],[.62,-.26],[.65,-.38],[.68,-.3],[.71,-.25],[.74,-.41],[.77,-.33],[.8,-.27],[.83,-.44],[.81,-.38],[.86,-.3],[.89,-.25],[.92,-.33],[.95,-.27],[.98,-.4],[1.03,-.24],[1.06,-.31],[1.09,-.37],[1.11,-.27],[1.14,-.33],[1.17,-.41],[1.19,-.28],[1.18,-.36],[1.21,-.24],[1.24,-.3],[1.27,-.36],[1.3,-.25],[1.33,-.3],[1.36,-.24],[1.39,-.31],[1.42,-.38],[1.45,-.24],[1.48,-.3],[1.51,-.35],[1.52,-.43],[1.55,-.26],[1.58,-.33],[1.61,-.24],[1.64,-.31],[1.67,-.27],[1.7,-.33],[1.73,-.24],[1.76,-.3],[1.79,-.36],[1.82,-.26],[1.85,-.31],[1.88,-.35],[1.91,-.26],[1.94,-.33],[1.97,-.25],[2,-.27],[2.03,-.2],[2.06,-.24],[2.12,-.28],[2.15,-.27],[.1,-.43],[.14,-.41],[.05,-.45],[.18,-.45],[.23,-.38],[.56,-.4],[.6,-.42],[.68,-.41],[.7,-.39],[.76,-.4],[.79,-.45],[.93,-.4],[1.04,-.4],[1.12,-.44],[1.36,-.37],[1.43,-.42],[1.5,-.42],[1.63,-.37],[1.69,-.39],[1.74,-.38]];

// inset clumps from the enlarged crops
var insetClumps = [[.01,-.08],[.02,-.1],[.03,-.06],[.04,-.12],[.05,-.09],[.06,-.05],[.07,-.11],[.08,-.07],[.09,-.13],[.02,-.05],[.04,-.02],[.1,-.04],[.12,-.11],[.14,-.06],[.16,-.13],[.03,-.15],[.06,-.17],
[.26,-.13],[.27,-.16],[.28,-.11],[.29,-.18],[.3,-.14],[.31,-.2],[.32,-.12],[.33,-.16],[.34,-.1],[.35,-.19],[.36,-.14],[.37,-.22],[.38,-.17],[.28,-.22],[.3,-.25],[.33,-.23],[.25,-.18],[.23,-.1],
[.45,-.12],[.46,-.17],[.47,-.14],[.48,-.19],[.49,-.16],[.5,-.22],[.51,-.18],[.45,-.25],[.47,-.28],[.49,-.25],[.46,-.32],[.48,-.34],[.5,-.3],[.47,-.37],[.49,-.41],[.45,-.44],[.48,-.46],[.52,-.13],[.53,-.2],[.44,-.2],
[.22,-.03],[.23,-.06],[.24,-.02],[.25,-.08],[.26,-.05],[.27,0],[.28,-.04],[.29,.02],[.21,.01],
[.68,.06],[.7,.09],[.71,.04],[.72,.08],[.73,.12],[.74,.05],[.75,.1],[.76,.07],[.69,.13],[.72,.01],
[.8,.08],[.82,.11],[.83,.06],[.84,.1],[.85,.14],[.86,.07],[.87,.12],[.88,.05],[.81,.15],
[.83,-.06],[.84,-.1],[.85,-.07],[.86,-.12],[.87,-.08],[.88,-.13],[.89,-.05],[.9,-.1],[.82,-.12],
[.48,.16],[.5,.19],[.52,.15],[.54,.2],[.55,.17],[.56,.13],[.51,.23],
[.07,.13],[.09,.17],[.1,.12],[.12,.19],[.13,.15],[.14,.11],[.11,.09],
[1.03,-.26],[1.04,-.3],[1.05,-.24],[1.05,-.34],[1.06,-.28],[1.07,-.38],[1.04,-.42],[1.06,-.45],[1.02,-.36],
[1.14,-.07],[1.15,-.11],[1.16,-.06],[1.17,-.13],[1.18,-.08],[1.19,-.14],[1.2,-.1],[1.21,-.06],[1.16,-.16],[1.19,-.18],[1.18,-.24],[1.17,-.3],[1.18,-.38],[1.19,-.44],
[1.44,-.07],[1.45,-.11],[1.46,-.06],[1.47,-.13],[1.48,-.08],[1.49,-.14],[1.5,-.1],[1.51,-.06],[1.46,-.16],[1.49,-.18],[1.52,-.12],[1.43,-.13],
[1.57,-.01],[1.58,-.04],[1.59,.01],[1.6,-.03],[1.61,-.06],[1.62,0],[1.63,-.02],[1.6,.04],[1.56,.03],
[1.2,.11],[1.21,.14],[1.22,.1],[1.23,.16],[1.24,.12],[1.25,.15],[1.26,.09],[1.24,.18],[1.22,.2],
[1.32,.19],[1.33,.22],[1.34,.18],[1.35,.24],[1.36,.2],[1.37,.17],[1.38,.23],[1.36,.27],[1.33,.29],[1.31,.13],
[1.46,.11],[1.47,.14],[1.48,.1],[1.49,.16],[1.47,.19],[1.5,.12],[1.45,.17],
[1.61,.19],[1.62,.23],[1.63,.18],[1.64,.24],[1.65,.2],[1.63,.28],[1.62,.33],[1.66,.15],
[1.83,.19],[1.84,.23],[1.85,.18],[1.86,.24],[1.87,.2],[1.88,.16],[1.89,.22],[1.86,.28],[1.84,.3],[1.9,.26],
[1.94,.19],[1.95,.23],[1.96,.18],[1.97,.24],[1.98,.2],[1.99,.16],[2,.22],[1.97,.29],[2.01,.19],[2.02,.26],
[1.96,-.02],[1.97,-.05],[1.98,-.01],[1.99,-.07],[2,-.03],[2.01,-.09],[1.97,-.11],[1.99,-.14],[2.02,-.04],
[1.66,-.07],[1.67,-.11],[1.68,-.06],[1.69,-.13],[1.7,-.08],[1.71,-.04],[1.67,-.15],
[1.78,.36],[1.79,.4],[1.8,.35],[1.81,.42],[1.79,.3],[1.82,.28],
[2.17,.38],[2.18,.42],[2.19,.36],[2.2,.41],[2.21,.38],[2.22,.44],[2.23,.47],[2.21,.33],
[1.32,-.19],[1.33,-.23],[1.34,-.18],[1.35,-.22],[1.36,-.26],[1.3,-.21],
[1.72,.01],[1.73,.04],[1.74,0],[1.75,.03],[1.76,.06],[.6,-.02],[.62,-.05],[.64,.02],[.66,-.03],[.58,.02],[.9,.02],[.93,.04],[.95,-.01],[1.05,.03],[1.08,.01],[1.1,-.02],[.35,.03],[.38,.01],[.4,.05],[.15,.03],[.18,.05],[.12,-.01],[.16,-.02],[2.1,.03],[2.13,.07],[2.16,.03],[2.19,.08],[2.22,.04],[2.25,.1],[2.28,.16],[2.31,.12]];

// second pass over the inset band, filling what the first pass left open
var insetFill = [[.015,.02],[.035,.06],[.055,-.14],[.075,.04],[.095,-.17],[.115,.1],[.135,-.23],[.155,.12],[.175,-.16],[.195,.07],[.215,-.24],[.235,.12],[.255,.04],[.275,-.19],[.295,.1],[.315,-.28],[.335,.07],[.355,-.12],[.375,.12],[.395,-.1],[.415,.09],[.435,-.15],[.455,.03],[.475,-.07],[.495,.11],[.515,-.12],[.535,.09],[.555,-.24],[.575,.13],[.595,-.16],[.615,.17],[.635,-.12],[.655,.11],[.675,-.17],[.695,.02],[.715,-.09],[.735,.17],[.755,-.13],[.775,.19],[.795,-.21],[.815,.03],[.835,-.24],[.855,.18],[.875,-.21],[.895,.13],[.915,-.26],[.935,.08],[.955,-.11],[.975,.15],[.995,-.21],[1.015,.1],[1.035,-.18],[1.055,.14],[1.075,-.24],[1.095,.12],[1.115,-.21],[1.135,.1],[1.155,-.23],[1.175,.15],[1.195,.02],[1.215,-.19],[1.235,.05],[1.255,-.24],[1.275,.16],[1.295,-.14],[1.315,.08],[1.335,-.13],[1.355,.14],[1.375,-.17],[1.395,.08],[1.415,-.23],[1.435,.13],[1.455,-.22],[1.475,.02],[1.495,-.24],[1.515,.08],[1.535,-.21],[1.555,.15],[1.575,-.14],[1.595,.07],[1.615,-.19],[1.635,.14],[1.655,-.21],[1.675,.14],[1.695,-.17],[1.715,.16],[1.735,-.19],[1.755,.18],[1.775,-.13],[1.795,.13],[1.815,-.1],[1.835,.09],[1.855,-.2],[1.875,.1],[1.895,-.14],[1.915,.13],[1.935,-.1],[1.955,.11],[1.975,-.16],[1.995,.08],[2.015,-.15],[2.035,.16],[2.055,-.08],[2.075,.2],[2.095,-.1],[2.115,.2],[2.135,-.14],[2.155,.24],[2.175,-.1],[2.195,.16],[2.215,.22],[2.235,.28],[2.255,.21],[2.275,.33],[2.295,.26],[2.315,.3],
[.02,-.22],[.06,-.24],[.1,-.3],[.13,-.37],[.16,-.29],[.2,-.26],[.22,-.33],[.26,-.36],[.29,-.31],[.34,-.28],[.37,-.32],[.41,-.26],[.43,-.38],[.52,-.27],[.54,-.32],[.57,-.36],[.61,-.31],[.64,-.28],[.67,-.35],[.7,-.31],[.73,-.27],[.75,-.35],[.78,-.29],[.82,-.32],[.85,-.26],[.87,-.36],[.9,-.31],[.94,-.3],[.97,-.34],[1,-.28],[1.08,-.25],[1.13,-.28],[1.16,-.25],[1.2,-.33],[1.23,-.38],[1.26,-.26],[1.29,-.32],[1.32,-.27],[1.38,-.28],[1.41,-.3],[1.44,-.34],[1.47,-.26],[1.53,-.29],[1.56,-.37],[1.6,-.3],[1.65,-.26],[1.72,-.28],[1.78,-.26],[1.83,-.36],[1.86,-.27],[1.9,-.33],[1.93,-.28],[1.96,-.3],[2.01,-.22],[2.04,-.26],[2.1,-.23],
[.04,.3],[.09,.29],[.14,.31],[.19,.25],[.24,.27],[.28,.24],[.33,.28],[.37,.25],[.41,.29],[.45,.27],[.53,.28],[.62,.27],[.66,.26],[.7,.27],[.74,.28],[.77,.25],[.83,.27],[.89,.27],[.95,.26],[1.01,.26],[1.07,.25],[1.13,.27],[1.18,.28],[1.25,.27],[1.29,.29],[1.4,.28],[1.44,.29],[1.52,.31],[1.57,.29],[1.6,.31],[1.68,.3],[1.72,.33],[1.76,.32],[1.8,.32],[1.91,.31],[2.03,.33],[2.06,.36],[2.09,.33],[2.14,.33],[2.24,.35],[2.28,.38],[2.3,.28],[2.26,.42],[2.14,.42],[2.04,.42],[1.96,.41]];

// inset scatter, lower outliers
var insetLow = [[.039,-1.074],[.617,-1.041],[2.126,-1.052],[0,-.882],[1.18,-.896],[1.211,-.86],[.868,-.865],[.022,-.777],[.176,-.8],[.249,-.731],[.061,-.585],[.044,-.621],[0,-.6],[0,-.69],[.15,-.646],[.306,-.621],[.196,-.549],[.283,-.508],[.323,-.475],[.395,-.489],[.477,-.846],[.518,-.819],[.471,-.764],[.471,-.725],[.478,-.687],[.514,-.563],[.471,-.503],[.509,-.503],[.543,-.489],[.581,-.503],[.603,-.613],[.594,-.709],[.629,-.591],[.629,-.805],[.748,-.632],[.762,-.695],[.774,-.571],[.803,-.783],[.803,-.832],[.91,-.577],[.905,-.791],[.953,-.563],[.948,-.489],[1.05,-.728],[1.107,-.538],[1.115,-.525],[1.18,-.525],[1.209,-.503],[1.221,-.515],[1.264,-.481],[1.322,-.448],[1.346,-.659],[1.465,-.777],[1.486,-.599],[1.494,-.635],[1.505,-.73],[1.517,-.736],[1.537,-.508],[1.633,-.668],[1.641,-.549],[1.675,-.797],[1.816,-.681],[1.833,-.558],[1.855,-.69],[1.858,-.832],[1.921,-.503],[1.974,-.58],[1.973,-.654],[1.981,-.764],[2.003,-.503],[1.974,-.47],[2.032,-.475],[1.956,-.407],[1.875,-.42],[1.892,-.365],[1.687,-.393],[1.734,-.379]];

// fitted curves, one y list per order
var curveX = [-1.51, -1.2, -.87, -.6, -.3, 0, .29, .53, .76, 1, 1.5, 2, 2.5, 3, 3.5, 4, 4.5, 4.93];
var fourthOrder = [1.243, 1.247, 1.228, 1.196, 1.125, 1.06, .975, .915, .866, .81, .69, .58, .47, .375, .31, .255, .185, .12];
var thirdOrder = [1.33, 1.283, 1.227, 1.193, 1.12, 1.058, .974, .912, .862, .806, .685, .565, .46, .368, .285, .24, .222, .235];
var secondOrder = [1.43, 1.36, 1.285, 1.22, 1.14, 1.07, .985, .925, .87, .825, .705, .59, .49, .4, .31, .2, .11, .035];
var firstX = [-1.51, 4.55];
var firstOrder = [1.386, .015];

var insetLineX = [0, 2.325];
var insetLineY = [-.13, .13];

var legendNames = ['Fourth order', 'Third order', 'Second order', 'First order (linear)'];
var xTicks = [-1, 0, 1, 2, 3, 4, 5];
var yTicks = [0, .5, 1, 1.5, 2, 2.5];
var insetXTicks = [0, .5, 1, 1.5, 2];
var insetYTicks = [-1, -.5, 0, .5, 1, 1.5];
var cutoff = 3.48;

var width = 1173;
var height = 903;

var svg = d3.select('#vis').append('svg')
    .attr('width', width)
    .attr('height', height);

// main chart scales
var x = d3.scaleLinear().domain([-1.59, 5]).range([114, 1165]);
var y = d3.scaleLinear().domain([0, 2.71]).range([814.3, 9.5]);

var ink = '#444';

function styleAxis(g, color, w) {
  g.select('.domain').attr('stroke', color).attr('stroke-width', w);
  g.selectAll('.tick line').attr('stroke', color).attr('stroke-width', 1.2);
  g.selectAll('.tick text').attr('fill', '#222').attr('font-family', 'inherit');
}

var xAxis = svg.append('g')
    .attr('transform', 'translate(0,814.3)')
    .call(d3.axisBottom(x).tickValues([-1.59].concat(xTicks)).tickSize(5).tickSizeOuter(0)
      .tickFormat(function (d) { return d === -1.59 ? '' : String(d); }));
styleAxis(xAxis, '#555', 1.8);
xAxis.selectAll('.tick text').attr('font-size', 24).attr('dy', '1.08em');

var yAxis = svg.append('g')
    .attr('transform', 'translate(114,0)')
    .call(d3.axisLeft(y).tickValues(yTicks).tickSize(4).tickSizeOuter(0).tickFormat(d3.format('.1f')));
styleAxis(yAxis, '#555', 1.8);
yAxis.selectAll('.tick text').attr('font-size', 24).attr('dx', '-0.62em');

// main points
var mainPoints = pointsHigh.concat(pointsLow, pointsRight, pointsCore, clumpsMain, clumpsCore);
svg.append('g').selectAll('circle').data(mainPoints).enter().append('circle')
    .attr('cx', function (d) { return x(d[0]); })
    .attr('cy', function (d) { return y(d[1]); })
    .attr('r', 3.2)
    .attr('fill', 'none')
    .attr('stroke', ink)
    .attr('stroke-width', 1.8);

// cutoff line
svg.append('line')
    .attr('x1', x(cutoff)).attr('x2', x(cutoff))
    .attr('y1', y(0)).attr('y2', y(.764))
    .attr('stroke', '#666')
    .attr('stroke-width', 1.4)
    .attr('stroke-dasharray', '2 2');

// fit curves
var lineMain = d3.line()
    .x(function (d) { return x(d[0]); })
    .y(function (d) { return y(d[1]); })
    .curve(d3.curveMonotoneX);

var curves = [
  { xs: curveX, ys: fourthOrder, dash: '17 8 3 8', w: 2 },
  { xs: curveX, ys: thirdOrder, dash: null, w: 2.8 },
  { xs: curveX, ys: secondOrder, dash: '4 11', w: 2.4 },
  { xs: firstX, ys: firstOrder, dash: '20 9', w: 2.8 }
];

svg.append('g').selectAll('path').data(curves).enter().append('path')
    .attr('d', function (c) { return lineMain(d3.zip(c.xs, c.ys)); })
    .attr('fill', 'none')
    .attr('stroke', '#111')
    .attr('stroke-width', function (c) { return c.w; })
    .attr('stroke-dasharray', function (c) { return c.dash; });

// legend
var legendY = d3.scalePoint().domain(legendNames).range([485.7, 543.3]);
var legend = svg.append('g').selectAll('g').data(legendNames).enter().append('g')
    .attr('transform', function (d) { return 'translate(0,' + legendY(d) + ')'; });
legend.append('line')
    .attr('x1', 932.5).attr('x2', 1006)
    .attr('stroke', '#111')
    .attr('stroke-width', function (d, i) { return curves[i].w; })
    .attr('stroke-dasharray', function (d, i) {
      return ['15 21 3 8', null, '3 12', '18 9'][i];
    });
legend.append('text')
    .attr('x', 1018)
    .attr('dy', '0.35em')
    .attr('font-size', 16)
    .attr('fill', '#222')
    .text(function (d) { return d; });

// axis titles
svg.append('text')
    .attr('x', 598).attr('y', 892)
    .attr('text-anchor', 'middle')
    .attr('font-size', 30.5)
    .attr('font-style', 'italic')
    .attr('fill', '#222')
    .text('Codon Usage Bias (standard deviations from the CAI mean)');

var yTitle = svg.append('text')
    .attr('transform', 'translate(34,459) rotate(-90)')
    .attr('text-anchor', 'middle')
    .attr('font-size', 30.5)
    .attr('font-style', 'italic')
    .attr('fill', '#222');
yTitle.append('tspan').text('Synonymous substitutions per site (K');
yTitle.append('tspan').attr('dy', 5).attr('font-size', 25).text('s');
yTitle.append('tspan').attr('dy', -5).text(')');

// inset
var ix = d3.scaleLinear().domain([0, 2.325]).range([601.4, 1166.4]);
var iy = d3.scaleLinear().domain([-1.11, 1.5]).range([337.7, 20.7]);

var ixAxis = svg.append('g')
    .attr('transform', 'translate(0,337.7)')
    .call(d3.axisBottom(ix).tickValues(insetXTicks).tickSize(3).tickSizeOuter(0).tickFormat(String));
styleAxis(ixAxis, '#777', 2);
ixAxis.selectAll('.tick text').attr('font-size', 16.5).attr('dy', '0.85em');

var iyAxis = svg.append('g')
    .attr('transform', 'translate(601.4,0)')
    .call(d3.axisLeft(iy).tickValues(insetYTicks).tickSize(2).tickSizeOuter(0).tickFormat(String));
styleAxis(iyAxis, '#777', 2);
iyAxis.selectAll('.tick text').attr('font-size', 16.5).attr('dx', '-0.3em');

var insetPoints = insetHigh.concat(insetBand, insetClumps, insetFill, insetLow);
svg.append('g').selectAll('circle').data(insetPoints).enter().append('circle')
    .attr('cx', function (d) { return ix(d[0]); })
    .attr('cy', function (d) { return iy(d[1]); })
    .attr('r', 2.4)
    .attr('fill', '#3a3a3a');

svg.append('line')
    .attr('x1', ix(0)).attr('x2', ix(2.325))
    .attr('y1', iy(0)).attr('y2', iy(0))
    .attr('stroke', '#333')
    .attr('stroke-width', 1);

svg.append('path')
    .attr('d', d3.line().x(function (d) { return ix(d[0]); }).y(function (d) { return iy(d[1]); })(d3.zip(insetLineX, insetLineY)))
    .attr('fill', 'none')
    .attr('stroke', '#111')
    .attr('stroke-width', 2.8);

svg.append('text')
    .attr('transform', 'translate(557,166) rotate(-90)')
    .attr('text-anchor', 'middle')
    .attr('font-size', 20)
    .attr('fill', '#222')
    .text('Residual Ks');

var iTitle = svg.append('text')
    .attr('x', 881).attr('y', 379)
    .attr('text-anchor', 'middle')
    .attr('font-size', 20.7)
    .attr('fill', '#222');
iTitle.append('tspan').attr('font-style', 'italic').text('Distance from the ');
iTitle.append('tspan').text('Escherichia coli ');
iTitle.append('tspan').attr('font-style', 'italic').text('replication origin (Mb)');
</script>
</body>
</html>
